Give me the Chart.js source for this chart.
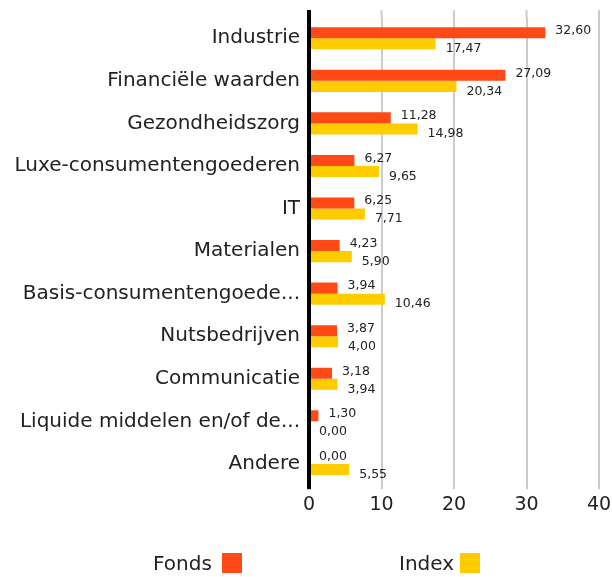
<!DOCTYPE html>
<html>
<head>
<meta charset="utf-8">
<script src="https://cdn.jsdelivr.net/npm/chart.js@4"></script>
<style>
  html, body { margin: 0; padding: 0; background: #fff; }
  #wrap { position: relative; width: 612px; height: 577px; }
  .leg { position: absolute; top: 551px; font: 20px "DejaVu Sans", sans-serif; color: #222; display: flex; align-items: center; }
  .leg span.box { display: inline-block; width: 20px; height: 20px; margin-left: 10px; }
</style>
</head>
<body>
<div id="wrap">
  <canvas id="chart" width="612" height="577"></canvas>
  <div class="leg" style="left:153px">Fonds<span class="box" style="background:#FF4A17"></span></div>
  <div class="leg" style="left:399px">Index<span class="box" style="background:#FFCC00;margin-left:6px"></span></div>
</div>
<script>
const categories = [
  'Industrie',
  'Financiële waarden',
  'Gezondheidszorg',
  'Luxe-consumentengoederen',
  'IT',
  'Materialen',
  'Basis-consumentengoede...',
  'Nutsbedrijven',
  'Communicatie',
  'Liquide middelen en/of de...',
  'Andere'
];
const fondsValues = [32.60, 27.09, 11.28, 6.27, 6.25, 4.23, 3.94, 3.87, 3.18, 1.30, 0.00];
const indexValues = [17.47, 20.34, 14.98, 9.65, 7.71, 5.90, 10.46, 4.00, 3.94, 0.00, 5.55];
const xTicks = [0, 10, 20, 30, 40];

const fondsColor = '#FF4A17';
const indexColor = '#FFCC00';
const fontFamily = '"DejaVu Sans", sans-serif';

// labels next to the bars, comma decimals
const barLabels = {
  id: 'barLabels',
  afterDatasetsDraw(chart) {
    const ctx = chart.ctx;
    ctx.save();
    ctx.font = '12.5px ' + fontFamily;
    ctx.fillStyle = '#222';
    ctx.textBaseline = 'middle';
    ctx.textAlign = 'left';
    chart.data.datasets.forEach((ds, i) => {
      const meta = chart.getDatasetMeta(i);
      const dy = i === 0 ? -2 : 5;
      meta.data.forEach((bar, j) => {
        const txt = ds.data[j].toFixed(2).replace('.', ',');
        ctx.fillText(txt, bar.x + 10, bar.y + dy);
      });
    });
    ctx.restore();
  }
};

// gridlines in the reference run a little above the first category
const gridTop = {
  id: 'gridTop',
  beforeDatasetsDraw(chart) {
    const ctx = chart.ctx;
    const x = chart.scales.x;
    const top = chart.chartArea.top;
    ctx.save();
    xTicks.forEach(v => {
      ctx.beginPath();
      ctx.strokeStyle = v === 0 ? '#000' : '#ccc';
      ctx.lineWidth = v === 0 ? 4 : 2;
      const px = x.getPixelForValue(v);
      ctx.moveTo(px, top - 7);
      ctx.lineTo(px, top + 1);
      ctx.stroke();
    });
    ctx.restore();
  }
};

new Chart(document.getElementById('chart').getContext('2d'), {
  type: 'bar',
  data: {
    labels: categories,
    datasets: [
      { label: 'Fonds', data: fondsValues, backgroundColor: fondsColor, categoryPercentage: 0.52, barPercentage: 1 },
      { label: 'Index', data: indexValues, backgroundColor: indexColor, categoryPercentage: 0.52, barPercentage: 1 }
    ]
  },
  options: {
    indexAxis: 'y',
    responsive: false,
    animation: false,
    layout: { padding: { top: 17, right: 0, bottom: 57, left: 0 } },
    plugins: { legend: { display: false }, tooltip: { enabled: false } },
    scales: {
      x: {
        min: 0,
        max: 40,
        afterBuildTicks: axis => { axis.ticks = xTicks.map(v => ({ value: v })); },
        afterFit: axis => { axis.paddingRight = 13; },
        border: { display: false },
        grid: {
          color: c => c.tick && c.tick.value === 0 ? '#000' : '#ccc',
          lineWidth: c => c.tick && c.tick.value === 0 ? 4 : 2,
          tickLength: 4
        },
        ticks: { font: { size: 19, family: fontFamily }, color: '#222', padding: 4 }
      },
      y: {
        border: { display: false },
        grid: { display: false },
        afterFit: axis => { axis.width = 309; axis.paddingTop = 0; axis.paddingBottom = 0; },
        ticks: { font: { size: 20, family: fontFamily }, color: '#222', padding: 1 }
      }
    }
  },
  plugins: [gridTop, barLabels]
});
</script>
</body>
</html>
